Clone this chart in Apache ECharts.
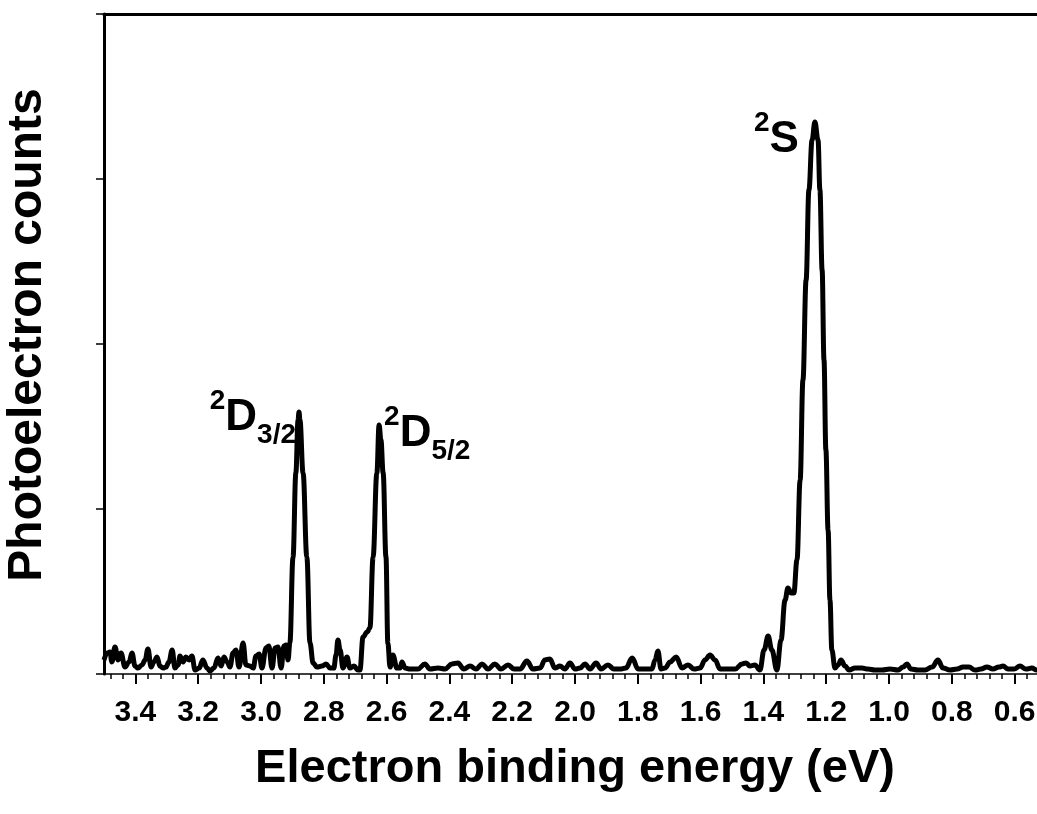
<!DOCTYPE html>
<html><head><meta charset="utf-8">
<script src="https://cdn.jsdelivr.net/npm/echarts@6/dist/echarts.min.js"></script>
<style>html,body{margin:0;padding:0;background:#fff}#c{width:1037px;height:814px}</style>
</head><body><div id="c"></div>
<script>
const energy = [3.500,3.490,3.481,3.475,3.465,3.455,3.446,3.433,3.420,3.411,3.401,3.392,3.379,3.369,3.360,3.350,3.341,3.331,3.322,3.312,3.303,3.293,3.283,3.274,3.264,3.258,3.248,3.239,3.229,3.220,3.210,3.197,3.185,3.172,3.162,3.150,3.137,3.127,3.118,3.108,3.099,3.089,3.080,3.070,3.057,3.048,3.035,3.025,3.016,3.006,2.997,2.984,2.975,2.965,2.955,2.946,2.936,2.927,2.920,2.914,2.908,2.898,2.889,2.882,2.879,2.876,2.866,2.854,2.844,2.834,2.822,2.806,2.793,2.780,2.768,2.761,2.755,2.748,2.739,2.726,2.717,2.704,2.691,2.685,2.675,2.662,2.653,2.643,2.631,2.624,2.618,2.611,2.602,2.596,2.589,2.580,2.567,2.557,2.551,2.541,2.525,2.500,2.478,2.462,2.436,2.414,2.392,2.373,2.354,2.334,2.315,2.296,2.277,2.255,2.236,2.213,2.194,2.175,2.153,2.134,2.111,2.096,2.080,2.064,2.048,2.032,2.016,2.000,1.984,1.968,1.952,1.933,1.917,1.895,1.876,1.857,1.838,1.818,1.799,1.777,1.755,1.745,1.736,1.726,1.713,1.697,1.678,1.659,1.640,1.621,1.602,1.586,1.570,1.554,1.538,1.516,1.490,1.468,1.455,1.443,1.427,1.411,1.398,1.385,1.373,1.357,1.344,1.331,1.322,1.312,1.303,1.293,1.283,1.274,1.264,1.255,1.245,1.236,1.226,1.220,1.213,1.207,1.201,1.194,1.188,1.182,1.172,1.162,1.153,1.140,1.127,1.108,1.086,1.067,1.045,1.022,0.997,0.971,0.955,0.943,0.930,0.908,0.885,0.863,0.844,0.828,0.806,0.783,0.764,0.745,0.726,0.707,0.688,0.669,0.650,0.637,0.621,0.602,0.583,0.564,0.545,0.529,0.500];
const counts = [0.085,0.127,0.133,0.073,0.164,0.085,0.127,0.042,0.073,0.127,0.048,0.036,0.055,0.085,0.152,0.042,0.073,0.103,0.048,0.036,0.042,0.073,0.145,0.036,0.055,0.109,0.073,0.103,0.085,0.109,0.024,0.036,0.085,0.036,0.018,0.036,0.097,0.048,0.103,0.073,0.042,0.127,0.145,0.042,0.188,0.055,0.048,0.036,0.109,0.121,0.036,0.158,0.170,0.036,0.158,0.164,0.036,0.170,0.176,0.085,0.188,0.709,1.218,1.539,1.588,1.539,1.218,0.709,0.188,0.067,0.042,0.048,0.061,0.036,0.036,0.115,0.206,0.145,0.036,0.103,0.036,0.048,0.024,0.024,0.224,0.255,0.279,0.709,1.218,1.509,1.418,1.218,0.709,0.188,0.042,0.115,0.036,0.036,0.073,0.036,0.030,0.030,0.061,0.030,0.036,0.030,0.061,0.067,0.030,0.048,0.030,0.061,0.030,0.061,0.030,0.055,0.030,0.030,0.079,0.030,0.036,0.085,0.091,0.036,0.048,0.030,0.067,0.030,0.036,0.061,0.030,0.067,0.030,0.055,0.030,0.030,0.036,0.097,0.030,0.030,0.030,0.085,0.139,0.030,0.036,0.073,0.103,0.036,0.055,0.030,0.036,0.085,0.115,0.085,0.030,0.030,0.030,0.061,0.067,0.048,0.055,0.024,0.145,0.230,0.145,0.024,0.206,0.448,0.521,0.491,0.491,0.691,1.176,1.782,2.388,2.933,3.236,3.345,3.236,2.933,2.448,1.903,1.358,0.873,0.448,0.145,0.036,0.055,0.085,0.048,0.024,0.036,0.036,0.030,0.024,0.024,0.030,0.024,0.042,0.061,0.030,0.024,0.024,0.042,0.085,0.036,0.024,0.030,0.042,0.042,0.024,0.030,0.042,0.030,0.042,0.048,0.030,0.030,0.048,0.030,0.036,0.024,0.030];
const majorTicks = [3.4,3.2,3.0,2.8,2.6,2.4,2.2,2.0,1.8,1.6,1.4,1.2,1.0,0.8,0.6];
const minorTicks = [0.52,0.56,0.60,0.64,0.68,0.72,0.76,0.80,0.84,0.88,0.92,0.96,1.00,1.04,1.08,1.12,1.16,1.20,1.24,1.28,1.32,1.36,1.40,1.44,1.48,1.52,1.56,1.60,1.64,1.68,1.72,1.76,1.80,1.84,1.88,1.92,1.96,2.00,2.04,2.08,2.12,2.16,2.20,2.24,2.28,2.32,2.36,2.40,2.44,2.48,2.52,2.56,2.60,2.64,2.68,2.72,2.76,2.80,2.84,2.88,2.92,2.96,3.00,3.04,3.08,3.12,3.16,3.20,3.24,3.28,3.32,3.36,3.40,3.44,3.48];
const peakLabels = ['{sup|2}{main|D}{sub|3/2}', '{sup|2}{main|D}{sub|5/2}', '{sup|2}{main|S}'];
const peakEnergies = [2.879, 2.624, 1.236];
const peakCounts = [1.588, 1.509, 3.345];

const font = "'Liberation Sans', Arial, sans-serif";
const chart = echarts.init(document.getElementById('c'), null, {renderer: 'canvas'});
const labelPlacement = [
  {position: 'left', distance: 3, offset: [0, 6]},
  {position: 'right', distance: 5, offset: [0, 9]},
  {position: 'left', distance: 16, offset: [0, 18]}
];
const rich = {
  sup: {fontFamily: font, fontWeight: 'bold', fontSize: 28, lineHeight: 28, verticalAlign: 'top', color: '#000'},
  main: {fontFamily: font, fontWeight: 'bold', fontSize: 44, lineHeight: 62, verticalAlign: 'middle', color: '#000'},
  sub: {fontFamily: font, fontWeight: 'bold', fontSize: 28, lineHeight: 28, verticalAlign: 'bottom', color: '#000'}
};
const option = {
  animation: false,
  backgroundColor: '#fff',
  grid: {left: 104, right: -9, top: 14, bottom: 140, containLabel: false, outerBoundsMode: 'none'},
  xAxis: [
    {
      type: 'value', min: 0.5, max: 3.5, inverse: true, position: 'bottom',
      name: 'Electron binding energy (eV)', nameLocation: 'middle', nameGap: 72,
      nameTextStyle: {fontFamily: font, fontWeight: 'bold', fontSize: 47, color: '#000'},
      axisLine: {show: true, onZero: false, lineStyle: {color: '#000', width: 1.5}},
      axisTick: {show: true, inside: false, length: 10, customValues: majorTicks, lineStyle: {color: '#000', width: 2}},
      axisLabel: {show: true, customValues: majorTicks, margin: 24, fontFamily: font, fontWeight: 'bold', fontSize: 30, color: '#000',
        hideOverlap: false, formatter: v => Number(v).toFixed(1)},
      splitLine: {show: false}
    },
    {
      type: 'value', min: 0.5, max: 3.5, inverse: true, position: 'bottom',
      axisLine: {show: false, onZero: false},
      axisTick: {show: true, inside: false, length: 5, customValues: minorTicks, lineStyle: {color: '#000', width: 1.5}},
      axisLabel: {show: false},
      splitLine: {show: false}
    },
    {
      type: 'value', min: 0.5, max: 3.5, inverse: true, position: 'top',
      axisLine: {show: true, onZero: false, lineStyle: {color: '#000', width: 3}},
      axisTick: {show: false}, axisLabel: {show: false}, splitLine: {show: false}
    }
  ],
  yAxis: {
    type: 'value', min: 0, max: 4, interval: 1,
    name: 'Photoelectron counts', nameLocation: 'middle', nameGap: 52, nameRotate: 90,
    nameTextStyle: {fontFamily: font, fontWeight: 'bold', fontSize: 48, color: '#000', padding: [0, 0, 0, 18]},
    axisLine: {show: true, lineStyle: {color: '#000', width: 3}},
    axisTick: {show: true, inside: false, length: 8, lineStyle: {color: '#000', width: 1.5}},
    axisLabel: {show: false},
    splitLine: {show: false}
  },
  series: [
    {
      type: 'line', xAxisIndex: 0,
      data: energy.map((e, i) => [e, counts[i]]),
      showSymbol: false, symbol: 'none',
      smooth: 0.4, smoothMonotone: 'x',
      lineStyle: {color: '#000', width: 5, join: 'round'},
      z: 3
    },
    {
      type: 'scatter', xAxisIndex: 0, symbolSize: 0, silent: true, z: 4,
      data: peakEnergies.map((e, i) => ({
        value: [e, peakCounts[i]],
        label: Object.assign({show: true, color: '#000', opacity: 1, textBorderWidth: 0, formatter: peakLabels[i], rich: rich}, labelPlacement[i])
      }))
    }
  ]
};
chart.setOption(option);
</script>
</body></html>
